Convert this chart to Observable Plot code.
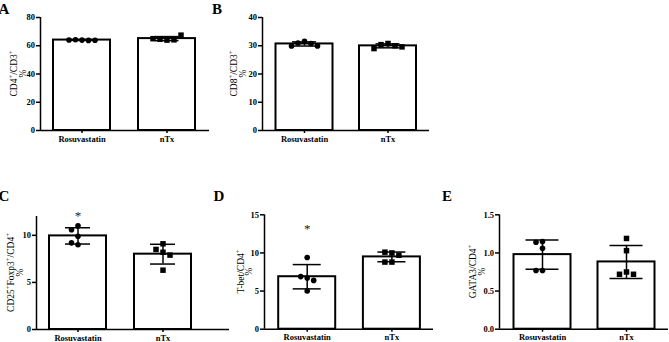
<!DOCTYPE html>
<html>
<head>
<meta charset="utf-8">
<script src="https://cdn.jsdelivr.net/npm/d3@7"></script>
<script src="https://cdn.jsdelivr.net/npm/@observablehq/plot@0.6"></script>
<style>
  html, body { margin: 0; padding: 0; background: #fff; }
  #chart { position: relative; width: 669px; height: 342px; overflow: hidden; background: #fff; }
  #chart svg { position: absolute; left: 0; top: 0; overflow: visible; }
  #chart svg g[aria-label$="-axis tick"] path, #chart svg .tick line { stroke-width: 1.5; }
</style>
</head>
<body>
<div id="chart"></div>
<script>
// Treatment groups (x categories)
const groups = ["Rosuvastatin", "nTx"];

// Individual animals, % of parent population
const cd4CD3Rosuvastatin = [64.0, 64.3, 63.8, 64.1, 63.9];
const cd4CD3NTx = [64.0, 64.6, 64.2, 65.0, 67.5];
const cd8CD3Rosuvastatin = [31.6, 31.0, 30.8, 29.9, 29.9];
const cd8CD3NTx = [30.8, 30.4, 30.0, 29.0, 29.6];
const tregRosuvastatin = [11.0, 10.6, 9.9, 9.0, 9.2];
const tregNTx = [9.1, 8.2, 8.5, 7.9, 6.3];
const tbetRosuvastatin = [9.4, 6.7, 6.9, 6.4, 5.0];
const tbetNTx = [10.0, 10.1, 9.7, 8.8, 8.8];
const gata3Rosuvastatin = [1.15, 1.14, 1.06, 0.77, 0.77];
const gata3NTx = [1.19, 1.03, 0.75, 0.72, 0.72];

// Panel texts and axes
const panelLetters = ["A", "B", "C", "D", "E"];
const yLabels = ["CD4⁺/CD3⁺", "CD8⁺/CD3⁺", "CD25⁺Foxp3⁺/CD4⁺", "T-bet/CD4⁺", "GATA3/CD4⁺"];
const yUnit = "%";
const yMaxima = [80, 40, 12, 15, 1.5];
const yTicks = [[0, 20, 40, 60, 80], [0, 10, 20, 30, 40], [0, 5, 10], [0, 5, 10, 15], [0, 0.5, 1, 1.5]];
const yTickFormats = ["d", "d", "d", "d", ".1f"];
const significance = ["", "", "*", "*", ""];

const seriesByPanel = [
  [cd4CD3Rosuvastatin, cd4CD3NTx],
  [cd8CD3Rosuvastatin, cd8CD3NTx],
  [tregRosuvastatin, tregNTx],
  [tbetRosuvastatin, tbetNTx],
  [gata3Rosuvastatin, gata3NTx]
];

// Page geometry of each panel (pixels)
const W = 669, H = 342;
const frames = [
  {axisX: 40,  axisEnd: 209, top: 17,    zero: 130,   c0: 81.5,  step: 85,   cap: 24, letter: [4, 14],    labelX: [17, 25.5], starAt: 0},
  {axisX: 262, axisEnd: 429, top: 17,    zero: 130,   c0: 304,   step: 83.5, cap: 24, letter: [217, 14],  labelX: [237, 246], starAt: 0},
  {axisX: 36,  axisEnd: 229, top: 216,   zero: 329,   c0: 77.5,  step: 85,   cap: 25, letter: [4, 201],   labelX: [14, 23],   starAt: 12.1},
  {axisX: 264, axisEnd: 433, top: 214.3, zero: 328.7, c0: 306.7, step: 84.7, cap: 28, letter: [219, 201], labelX: [244, 252], starAt: 13.1},
  {axisX: 499, axisEnd: 668, top: 214.3, zero: 328.7, c0: 542,   step: 84,   cap: 33, letter: [447, 201], labelX: [476, 485], starAt: 0}
];

const serif = "'Liberation Serif', 'Times New Roman', serif";
const root = d3.select("#chart");

// Spread overlapping dots sideways, like a scatter-dot column
function spread(values, pxPerUnit, spacing, minDist) {
  const placed = [];
  return values.map(v => {
    const py = v * pxPerUnit;
    for (let k = 0; k < 40; k++) {
      const off = k === 0 ? 0 : (k % 2 ? -1 : 1) * Math.ceil(k / 2) * spacing;
      if (placed.every(p => Math.hypot(p[0] - off, p[1] - py) >= minDist)) {
        placed.push([off, py]);
        return off;
      }
    }
    return 0;
  });
}

// Rotated axis title with "+" drawn as superscripts
function rotatedLabel(sel, text, x, y, size) {
  const t = sel.append("text")
    .attr("transform", `translate(${x},${y}) rotate(-90)`)
    .attr("text-anchor", "middle")
    .attr("font-family", serif)
    .attr("font-size", size)
    .attr("font-weight", "normal")
    .attr("fill", "black");
  const segs = [];
  text.split("⁺").forEach((s, k, arr) => {
    if (s) segs.push({s, sup: false});
    if (k < arr.length - 1) segs.push({s: "+", sup: true});
  });
  let shift = 0;
  for (const seg of segs) {
    const want = seg.sup ? -size * 0.4 : 0;
    t.append("tspan")
      .attr("dy", want - shift)
      .attr("font-size", seg.sup ? size * 0.7 : size)
      .text(seg.s);
    shift = want;
  }
}

seriesByPanel.forEach((series, p) => {
  const f = frames[p];
  const yMax = yMaxima[p];
  const xMin = (f.axisX - f.c0) / f.step;
  const xMax = (f.axisEnd - f.c0) / f.step;
  const pxPerUnit = (f.zero - f.top) / yMax;
  const barHalf = 28.5 / f.step;
  const capHalf = f.cap / 2 / f.step;

  const summary = series.map((vals, i) => {
    const mean = d3.mean(vals), sd = d3.deviation(vals);
    return {i, mean, lo: mean - sd, hi: mean + sd};
  });

  const points = series.flatMap((vals, i) => {
    const offs = spread(vals, pxPerUnit, i === 0 ? 6.5 : 7, i === 0 ? 6 : 6.5);
    return vals.map((v, k) => ({i, v, x: i + offs[k] / f.step}));
  });

  const marks = [
    Plot.rect(summary, {x1: d => d.i - barHalf, x2: d => d.i + barHalf, y1: 0, y2: "mean",
      fill: "white", stroke: "black", strokeWidth: 2}),
    Plot.ruleX(summary, {x: "i", y1: "lo", y2: "hi", stroke: "black", strokeWidth: 1.5}),
    Plot.ruleY(summary, {y: "hi", x1: d => d.i - capHalf, x2: d => d.i + capHalf, stroke: "black", strokeWidth: 1.5}),
    Plot.ruleY(summary, {y: "lo", x1: d => d.i - capHalf, x2: d => d.i + capHalf, stroke: "black", strokeWidth: 1.5}),
    Plot.dot(points.filter(d => d.i === 0), {x: "x", y: "v", r: 2.8, fill: "black", symbol: "circle"}),
    Plot.dot(points.filter(d => d.i === 1), {x: "x", y: "v", r: 3.1, fill: "black", symbol: "square"}),
    Plot.ruleX([xMin], {stroke: "black", strokeWidth: 1.5}),
    Plot.ruleY([0], {stroke: "black", strokeWidth: 1.5})
  ];
  if (significance[p]) {
    marks.push(Plot.text([significance[p]], {x: 0, y: f.starAt, text: d => d,
      fontSize: 13, fontWeight: "normal", fill: "#222"}));
  }

  const svg = Plot.plot({
    width: W, height: H,
    marginLeft: f.axisX, marginRight: W - f.axisEnd,
    marginTop: f.top, marginBottom: H - f.zero,
    style: {background: "transparent", fontFamily: serif, fontSize: "8.5px",
      fontWeight: "bold", color: "black", overflow: "visible"},
    x: {type: "linear", domain: [xMin, xMax], ticks: [0, 1], tickFormat: i => groups[i],
      tickSize: 3, tickPadding: 2, label: null},
    y: {domain: [0, yMax], ticks: yTicks[p], tickFormat: d3.format(yTickFormats[p]),
      tickSize: 4, tickPadding: 1.5, label: null},
    marks
  });

  const s = d3.select(svg);
  const mid = (f.top + f.zero) / 2;
  rotatedLabel(s, yLabels[p], f.labelX[0], mid, 9.5);
  rotatedLabel(s, yUnit, f.labelX[1], mid, 9.5);
  s.append("text")
    .attr("x", f.letter[0]).attr("y", f.letter[1])
    .attr("font-family", serif).attr("font-size", 15).attr("font-weight", "bold")
    .attr("fill", "black")
    .text(panelLetters[p]);

  root.node().appendChild(svg);
});
</script>
</body>
</html>
